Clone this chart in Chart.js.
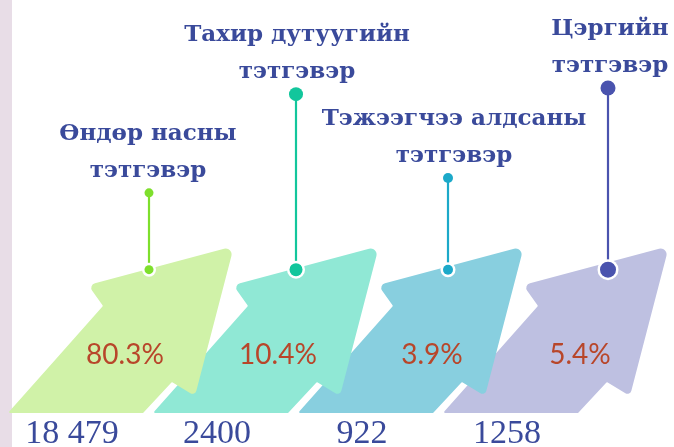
<!DOCTYPE html>
<html><head><meta charset="utf-8">
<script src="https://cdn.jsdelivr.net/npm/chart.js@4.4.1/dist/chart.umd.min.js"></script>
<style>
html,body{margin:0;padding:0;background:#fff;}
#wrap{position:relative;width:674px;height:447px;overflow:hidden;background:#fff;}
#strip{position:absolute;left:0;top:0;width:12px;height:447px;background:#e8dde7;}
canvas{position:absolute;left:0;top:0;}
</style></head><body>
<div id="wrap"><div id="strip"></div><canvas id="c" width="674" height="447"></canvas></div>
<script>
// ---- data ----
const categories = ['Өндөр насны тэтгэвэр', 'Тахир дутуугийн тэтгэвэр', 'Тэжээгчээ алдсаны тэтгэвэр', 'Цэргийн тэтгэвэр'];
const labelLines = [['Өндөр насны', 'тэтгэвэр'], ['Тахир дутуугийн', 'тэтгэвэр'], ['Тэжээгчээ алдсаны', 'тэтгэвэр'], ['Цэргийн', 'тэтгэвэр']];
const recipients = [18479, 2400, 922, 1258];
const recipientLabels = ['18 479', '2400', '922', '1258'];
const sharePct = [80.3, 10.4, 3.9, 5.4];

// ---- styles ----
const arrowColors = ['#d0f2a8', '#90e8d5', '#88cfdf', '#bec0e1'];
const accentColors = ['#7edf2c', '#12c69c', '#1ca9c9', '#4a53ae'];
const navy = '#3a4a9b';
const pctColor = '#b8462a';

// arrow outline relative to bottom-left corner: [dx, dy, cornerRadius]
const ARROW = [[0,0,1],[135,0,1],[164,-31,1],[187,-17,4],[226,-167,6],[80,-128,5],[95,-107,1]];

function drawArrow(ctx, bx, by, color) {
  const pts = ARROW.map(p => [bx + p[0], by + p[1], p[2]]);
  const n = pts.length;
  ctx.beginPath();
  ctx.moveTo((pts[n-1][0] + pts[0][0]) / 2, (pts[n-1][1] + pts[0][1]) / 2);
  for (let k = 0; k < n; k++) {
    const p = pts[k], q = pts[(k + 1) % n];
    ctx.arcTo(p[0], p[1], q[0], q[1], p[2]);
  }
  ctx.closePath();
  ctx.fillStyle = color;
  ctx.fill();
}

const infographic = {
  id: 'infographic',
  beforeDatasetsDraw(chart, args, o) {
    const meta = chart.getDatasetMeta(0);
    const ctx = chart.ctx;
    const base = chart.chartArea.bottom;
    ctx.save();
    for (let i = meta.data.length - 1; i >= 0; i--) {
      drawArrow(ctx, meta.data[i].x - o.halfWidth, base, arrowColors[i]);
    }
    ctx.restore();
  },
  afterDatasetsDraw(chart, args, o) {
    const meta = chart.getDatasetMeta(0);
    const ctx = chart.ctx;
    const y = chart.scales.y;
    ctx.save();
    meta.data.forEach((el, i) => {
      const cx = el.x;
      const sx = cx + o.stemDx[i];
      const yTop = y.getPixelForValue(o.dotLevel[i]);
      const yBot = y.getPixelForValue(o.anchorLevel);
      // stem
      ctx.strokeStyle = accentColors[i];
      ctx.lineWidth = 2.2;
      ctx.beginPath(); ctx.moveTo(sx, yTop); ctx.lineTo(sx, yBot); ctx.stroke();
      // anchor dot with white ring
      ctx.fillStyle = '#ffffff';
      ctx.beginPath(); ctx.arc(sx, yBot, o.botR[i] + 2.5, 0, Math.PI * 2); ctx.fill();
      ctx.fillStyle = accentColors[i];
      ctx.beginPath(); ctx.arc(sx, yBot, o.botR[i], 0, Math.PI * 2); ctx.fill();
      // top dot
      ctx.beginPath(); ctx.arc(sx, yTop, o.topR[i], 0, Math.PI * 2); ctx.fill();
      // category label
      ctx.fillStyle = navy;
      ctx.font = 'bold 23px "DejaVu Serif"';
      ctx.textAlign = 'center';
      ctx.textBaseline = 'alphabetic';
      const lx = cx + o.labelDx[i];
      const lines = labelLines[i];
      for (let k = 0; k < lines.length; k++) {
        const yy = yTop - o.labelGap - (lines.length - 1 - k) * o.lineHeight;
        ctx.fillText(lines[k], lx, yy);
      }
      // share percentage
      ctx.fillStyle = pctColor;
      ctx.font = '28px Lato';
      ctx.fillText(sharePct[i].toFixed(1) + '%', cx + o.pctDx[i], y.getPixelForValue(o.pctLevel));
    });
    ctx.restore();
  }
};

new Chart(document.getElementById('c'), {
  type: 'bar',
  data: {
    labels: categories,
    datasets: [{
      label: 'Тэтгэвэр авагчид',
      data: sharePct,
      backgroundColor: 'rgba(0,0,0,0)',
      borderWidth: 0
    }]
  },
  options: {
    responsive: false,
    animation: false,
    devicePixelRatio: 1,
    layout: { padding: { left: 48.5, right: 45.5, top: 0, bottom: 0 } },
    plugins: {
      legend: { display: false },
      tooltip: { enabled: false },
      infographic: {
        halfWidth: 113,
        stemDx: [28, 30, 37, 52],
        labelDx: [27, 31, 43, 54],
        pctDx: [4, 12, 21, 24],
        dotLevel: [53.3, 77.2, 56.9, 78.7],
        anchorLevel: 34.7,
        pctLevel: 11.9,
        topR: [4.5, 7, 5, 7.5],
        botR: [4.5, 6.5, 5, 8],
        labelGap: 16,
        lineHeight: 37
      }
    },
    scales: {
      y: { display: false, min: 0, max: 100 },
      x: {
        grid: { display: false, drawTicks: false },
        border: { display: false },
        afterFit: (scale) => { scale.height = 34; },
        ticks: {
          callback: (v, i) => recipientLabels[i],
          color: navy,
          font: { family: 'Liberation Serif', size: 34, lineHeight: 1 },
          padding: 4,
          labelOffset: -49,
          maxRotation: 0,
          autoSkip: false
        }
      }
    }
  },
  plugins: [infographic]
});
</script>
</body></html>
